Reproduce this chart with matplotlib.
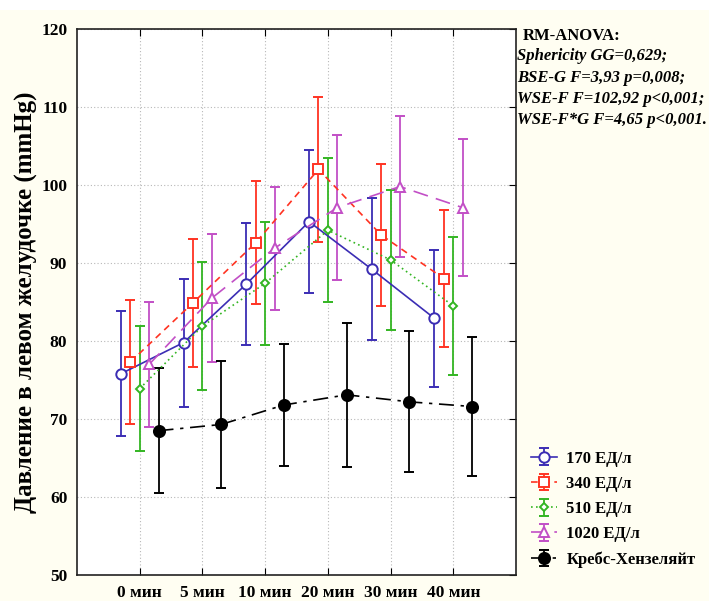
import matplotlib
matplotlib.use("Agg")
import matplotlib.pyplot as plt
from matplotlib.patches import Rectangle
import numpy as np

categories = ["0 мин", "5 мин", "10 мин", "20 мин", "30 мин", "40 мин"]
series_names = ["170 ЕД/л", "340 ЕД/л", "510 ЕД/л", "1020 ЕД/л", "Кребс-Хензеляйт"]

mean_170 = [75.8, 79.8, 87.3, 95.3, 89.2, 82.9]
err_170 = [8.0, 8.2, 7.8, 9.2, 9.1, 8.8]
mean_340 = [77.3, 84.9, 92.6, 102.0, 93.6, 88.0]
err_340 = [8.0, 8.2, 7.9, 9.3, 9.1, 8.8]
mean_510 = [73.9, 81.9, 87.4, 94.2, 90.4, 84.5]
err_510 = [8.0, 8.2, 7.9, 9.2, 9.0, 8.8]
mean_1020 = [77.0, 85.5, 91.9, 97.1, 99.8, 97.1]
err_1020 = [8.0, 8.2, 7.9, 9.3, 9.0, 8.8]
mean_kh = [68.5, 69.3, 71.8, 73.1, 72.2, 71.6]
err_kh = [8.0, 8.2, 7.8, 9.2, 9.05, 8.85]

means = [mean_170, mean_340, mean_510, mean_1020, mean_kh]
errs = [err_170, err_340, err_510, err_1020, err_kh]
offsets = [-0.30, -0.15, 0.0, 0.15, 0.30]
colors = ["#3b2db4", "#ff3322", "#33b522", "#c24fc6", "#000000"]
markers = ["o", "s", "D", "^", "o"]
msizes = [7.5, 7.5, 4.5, 7.5, 8]
mfcs = ["white", "white", "white", "white", "black"]
lstyles = ["-", (0, (4, 3)), (0, (1, 2)), (0, (9, 5)), (0, (9, 4, 2, 4))]

plt.rcParams['font.family'] = ['Liberation Serif', 'DejaVu Serif']

fig = plt.figure(figsize=(7.09, 6.01), dpi=100)
fig.patch.set_facecolor("#fffef2")
fig.patches.append(Rectangle((0, 1 - 10/601), 1, 10/601, transform=fig.transFigure,
                             facecolor="white", edgecolor="none", zorder=0))
ax = fig.add_axes([77/709, 26/601, 439/709, 546/601])
ax.set_facecolor("white")

x = np.arange(len(categories))
for m, e, off, c, mk, ms, mfc, ls, name in zip(means, errs, offsets, colors, markers, msizes, mfcs, lstyles, series_names):
    ax.errorbar(x + off, m, yerr=e, color=c, ecolor=c, elinewidth=1.3, capsize=3.5, capthick=1.3,
                marker=mk, markersize=ms, markerfacecolor=mfc, markeredgecolor=c, markeredgewidth=1.4,
                linestyle=ls, linewidth=1.2, label=name, zorder=3)

ax.set_xlim(-1.0, 6.0)
ax.set_ylim(50, 120)
ax.set_xticks(x)
ax.set_xticklabels(categories, fontsize=12.5, fontweight="bold")
ax.set_yticks(np.arange(50, 121, 10))
ax.set_yticklabels([str(v) for v in range(50, 121, 10)], fontsize=12.5, fontweight="bold")
ax.tick_params(axis="x", direction="in", top=True, length=5, pad=7)
ax.tick_params(axis="y", direction="in", right=True, left=False, length=5, pad=7)
ax.grid(True, linestyle=(0, (1, 2)), color="#b8b8b8", linewidth=0.8)
for s in ax.spines.values():
    s.set_linewidth(1.2)
    s.set_color("#222222")

ax.set_ylabel("Давление в левом желудочке (mmHg)", fontsize=18, fontweight="bold", labelpad=2)

fig.text(523/709, 1 - 36/601, "RM-ANOVA:", fontsize=12, fontweight="bold", va="center", ha="left")
stats_lines = ["Sphericity GG=0,629;", "BSE-G F=3,93 p=0,008;", "WSE-F F=102,92 p<0,001;", "WSE-F*G F=4,65 p<0,001."]
for i, t in enumerate(stats_lines):
    fig.text(517/709, 1 - (56 + 21.5 * i)/601, t, fontsize=12, fontweight="bold", style="italic", va="center", ha="left")

leg = ax.legend(loc="upper left", bbox_to_anchor=(524/709, 1 - 444/601), bbox_transform=fig.transFigure,
                frameon=False, prop={"weight": "bold", "size": 12}, handlelength=1.6, handletextpad=0.55,
                labelspacing=0.55, borderaxespad=0)

fig.savefig("out.png", dpi=100, facecolor=fig.get_facecolor())
